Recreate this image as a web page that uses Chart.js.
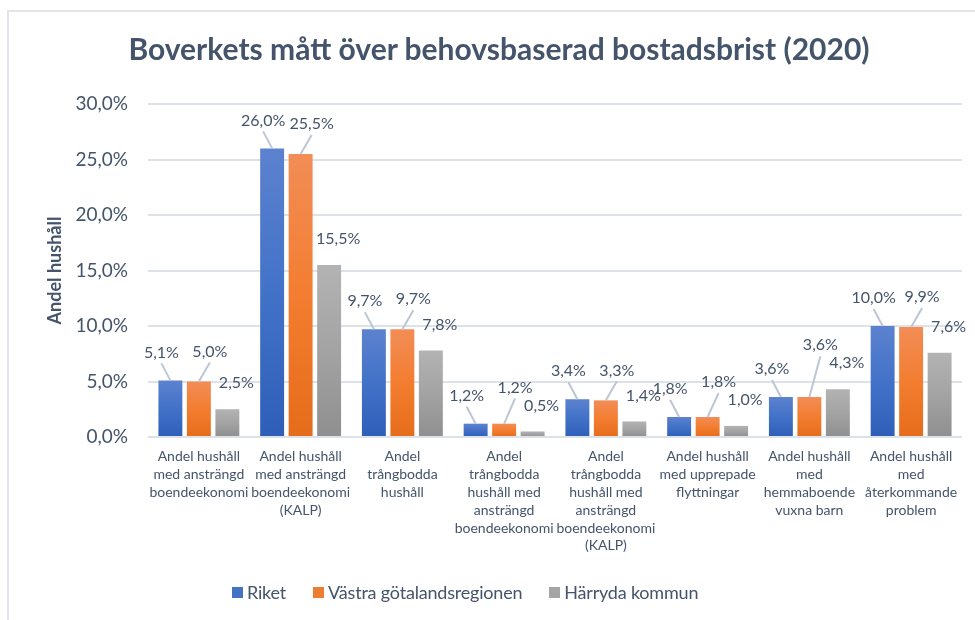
<!DOCTYPE html>
<html>
<head>
<meta charset="utf-8">
<script src="https://cdn.jsdelivr.net/npm/chart.js@4.4.1/dist/chart.umd.min.js"></script>
<style>
  html, body { margin: 0; padding: 0; background: #fff; overflow: hidden; }
  body { width: 975px; height: 620px; position: relative; font-family: Lato, sans-serif; }
  .card { position: absolute; left: 7px; top: 10px; width: 1100px; height: 800px; border: 2px solid #e1e5ea; }
  #wrap { position: absolute; left: 0; top: 0; width: 975px; height: 620px; }
  .title { position: absolute; left: 0; width: 998px; top: 30px; text-align: center;
           font: bold 30px Lato, sans-serif; color: #44546a; }
  .legend { position: absolute; left: 232px; top: 581px; display: flex; align-items: center;
            font: 18px Lato, sans-serif; letter-spacing: -0.2px; color: #44546a; }
  .legend div { display: flex; align-items: center; margin-right: 27px; }
  .legend .c { width: 11px; height: 11px; margin-right: 4px; display: inline-block; }
</style>
</head>
<body>
<div class="card"></div>
<div id="wrap"><canvas id="chart" width="975" height="620"></canvas></div>
<div class="title">Boverkets mått över behovsbaserad bostadsbrist (2020)</div>
<div class="legend"></div>
<script>
const categories = [
  ["Andel hushåll", "med ansträngd", "boendeekonomi"],
  ["Andel hushåll", "med ansträngd", "boendeekonomi", "(KALP)"],
  ["Andel", "trångbodda", "hushåll"],
  ["Andel", "trångbodda", "hushåll med", "ansträngd", "boendeekonomi"],
  ["Andel", "trångbodda", "hushåll med", "ansträngd", "boendeekonomi", "(KALP)"],
  ["Andel hushåll", "med upprepade", "flyttningar"],
  ["Andel hushåll", "med", "hemmaboende", "vuxna barn"],
  ["Andel hushåll", "med", "återkommande", "problem"]
];
const riket = [5.1, 26.0, 9.7, 1.2, 3.4, 1.8, 3.6, 10.0];
const vastra = [5.0, 25.5, 9.7, 1.2, 3.3, 1.8, 3.6, 9.9];
const harryda = [2.5, 15.5, 7.8, 0.5, 1.4, 1.0, 4.3, 7.6];
const seriesNames = ["Riket", "Västra götalandsregionen", "Härryda kommun"];
const yTicks = [0, 5, 10, 15, 20, 25, 30];

const textColor = "#44546a";
const fmt = v => v.toFixed(1).replace(".", ",") + "%";

// per-bar vertical gradient, light at top, dark at bottom
function barFill(top, mid, bottom) {
  return ctx => {
    const chart = ctx.chart;
    if (!chart.chartArea || ctx.type !== "data") return mid;
    const y = chart.scales.y;
    const y0 = y.getPixelForValue(ctx.raw);
    const y1 = y.getPixelForValue(0);
    if (!isFinite(y0) || y1 - y0 < 1) return mid;
    const g = chart.ctx.createLinearGradient(0, y0, 0, y1);
    g.addColorStop(0, top);
    g.addColorStop(0.5, mid);
    g.addColorStop(1, bottom);
    return g;
  };
}

const legendColors = ["#4472c4", "#ed7d31", "#a5a5a5"];

// label offsets per series; labels that collide get pushed up, leader line back to bar
const labelOffsets = [
  { dx: -9, dy: -28, line: true },
  { dx: 11, dy: -30, line: true },
  { dx: 9, dy: -26, line: false }
];
const placeOrder = [0, 2, 1];

const dataLabels = {
  id: "dataLabels",
  afterDatasetsDraw(chart) {
    const ctx = chart.ctx;
    ctx.save();
    ctx.font = "16px Lato, sans-serif";
    ctx.textAlign = "center";
    ctx.textBaseline = "middle";
    const h = 16;
    chart.data.labels.forEach((_, j) => {
      const placed = [];
      placeOrder.forEach(i => {
        const bar = chart.getDatasetMeta(i).data[j];
        const o = labelOffsets[i];
        const txt = fmt(chart.data.datasets[i].data[j]);
        const w = ctx.measureText(txt).width;
        const lx = bar.x + o.dx;
        let ly = bar.y + o.dy;
        placed.forEach(p => {
          const overlapX = Math.abs(p.x - lx) < (p.w + w) / 2 - 1;
          if (overlapX && Math.abs(p.y - ly) < h + 2) ly = Math.min(ly, p.y - h - 2);
        });
        placed.push({ x: lx, y: ly, w });
        if (o.line) {
          ctx.strokeStyle = "#bcc6d4";
          ctx.lineWidth = 2;
          ctx.beginPath();
          ctx.moveTo(lx, ly + 11);
          ctx.lineTo(bar.x, bar.y);
          ctx.stroke();
        }
        ctx.fillStyle = textColor;
        ctx.fillText(txt, lx, ly);
      });
    });
    ctx.restore();
  }
};

new Chart(document.getElementById("chart"), {
  type: "bar",
  data: {
    labels: categories,
    datasets: [
      { label: seriesNames[0], data: riket, backgroundColor: barFill("#5c82cf", "#4272c8", "#2e5eb8") },
      { label: seriesNames[1], data: vastra, backgroundColor: barFill("#f28d56", "#f37d30", "#e56c1a") },
      { label: seriesNames[2], data: harryda, backgroundColor: barFill("#b3b3b3", "#a3a3a3", "#8f8f8f") }
    ]
  },
  options: {
    responsive: false,
    animation: false,
    categoryPercentage: 0.84,
    barPercentage: 0.84,
    layout: { padding: { top: 104, right: 13, bottom: 0, left: 0 } },
    plugins: {
      legend: { display: false },
      tooltip: { enabled: false }
    },
    scales: {
      x: {
        grid: { display: false, drawTicks: false },
        border: { display: false },
        ticks: {
          autoSkip: false, maxRotation: 0, padding: 11,
          color: textColor, font: { family: "Lato", size: 14, lineHeight: 1.27 }
        },
        afterFit: s => { s.height = 183; }
      },
      y: {
        min: 0, max: 30,
        afterBuildTicks: s => { s.ticks = yTicks.map(v => ({ value: v })); },
        grid: { color: "#dde2e9", lineWidth: 2, drawTicks: false },
        border: { display: false },
        ticks: {
          padding: 20, color: textColor,
          font: { family: "Lato", size: 19 },
          callback: v => fmt(v)
        },
        title: {
          display: true, text: "Andel hushåll", color: textColor,
          font: { family: "Lato", size: 18, weight: "bold" },
          padding: { top: 44 }
        },
        afterFit: s => { s.width = 148; }
      }
    }
  },
  plugins: [dataLabels]
});

const legend = document.querySelector(".legend");
seriesNames.forEach((n, i) => {
  legend.innerHTML += `<div><span class="c" style="background:${legendColors[i]}"></span>${n}</div>`;
});
</script>
</body>
</html>
